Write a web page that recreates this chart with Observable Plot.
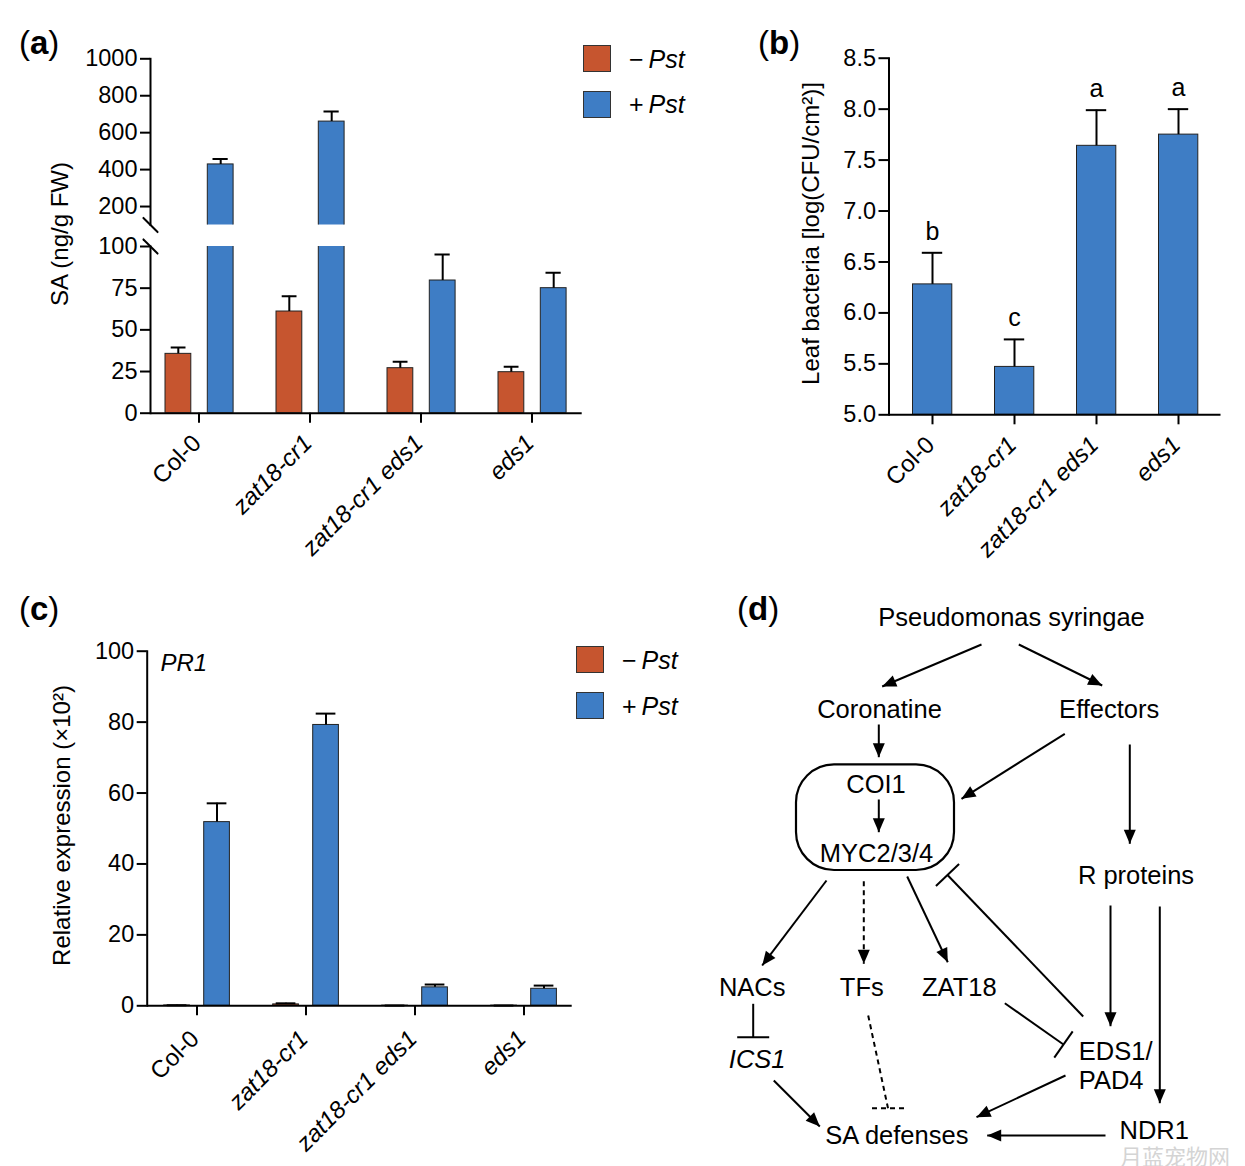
<!DOCTYPE html>
<html><head><meta charset="utf-8">
<script src="https://cdn.jsdelivr.net/npm/d3@7"></script>
<script src="https://cdn.jsdelivr.net/npm/@observablehq/plot@0.6"></script>
<style>
body{margin:0;background:#fff;}
#fig{position:relative;width:1245px;height:1166px;font-family:"Liberation Sans",Arial,Helvetica,sans-serif;color:#000;overflow:hidden;background:#fff;}
.plabel{position:absolute;font-size:33px;line-height:1;white-space:nowrap;}
.plabel b{font-weight:bold;}
.legtxt{position:absolute;font-size:25px;line-height:1;white-space:nowrap;}
.sw{position:absolute;width:28px;height:27px;border:1.2px solid #333;box-sizing:border-box;}
.err{position:absolute;left:10px;color:red;font-size:12px;}
</style></head><body><div id="fig"></div>
<script>
// ---------------- data ----------------
const genotypes = ["Col-0", "zat18-cr1", "zat18-cr1 eds1", "eds1"];
const treatments = ["−Pst", "+Pst"];
// (a) SA content, ng/g FW
const saMock = [35.6, 61.0, 27.0, 24.6];
const saMockErr = [3.8, 9.2, 3.8, 3.2];
const saPst = [428, 660, 79.6, 75.0];
const saPstErr = [30, 55, 15.6, 9.2];
const saTicksUpper = [200, 400, 600, 800, 1000];
const saTicksLower = [0, 25, 50, 75, 100];
// (b) leaf bacteria, log(CFU/cm2)
const bact = [6.28, 5.47, 7.64, 7.75];
const bactErr = [0.31, 0.27, 0.35, 0.25];
const bactLetters = ["b", "c", "a", "a"];
const bactTicks = [5.0, 5.5, 6.0, 6.5, 7.0, 7.5, 8.0, 8.5];
// (c) PR1 relative expression (x10^2)
const pr1Mock = [0.1, 0.4, 0.05, 0.05];
const pr1MockErr = [0.05, 0.3, 0.02, 0.02];
const pr1Pst = [51.8, 79.2, 5.2, 4.8];
const pr1PstErr = [5.3, 3.2, 0.8, 0.9];
const pr1Ticks = [0, 20, 40, 60, 80, 100];
// (d) pathway diagram
const nodes = [
  {label: "Pseudomonas syringae", x: 311, y: 37},
  {label: "Coronatine", x: 179, y: 129},
  {label: "Effectors", x: 408.7, y: 129},
  {label: "COI1", x: 175.5, y: 204},
  {label: "MYC2/3/4", x: 176, y: 273},
  {label: "R proteins", x: 435.5, y: 295.5},
  {label: "NACs", x: 51.7, y: 407},
  {label: "TFs", x: 161.3, y: 407},
  {label: "ZAT18", x: 258.8, y: 407},
  {label: "ICS1", x: 56.7, y: 479, italic: true},
  {label: "EDS1/", x: 378.3, y: 471, align: "start"},
  {label: "PAD4", x: 378.3, y: 500, align: "start"},
  {label: "SA defenses", x: 196.3, y: 555},
  {label: "NDR1", x: 453.7, y: 550.5}
];
const complexBox = [{x1: 96, x2: 254, y1: 184.3, y2: 290}];
const activations = [
  {x1: 281, y1: 64, x2: 181.7, y2: 106},
  {x1: 318.3, y1: 64, x2: 401.7, y2: 105},
  {x1: 178.3, y1: 144, x2: 178.3, y2: 176.7},
  {x1: 364.3, y1: 153.3, x2: 261, y2: 218.3},
  {x1: 429.3, y1: 164, x2: 429.3, y2: 263.3},
  {x1: 178.3, y1: 219, x2: 178.3, y2: 251.7},
  {x1: 126, y1: 300, x2: 61.7, y2: 385},
  {x1: 206.7, y1: 296, x2: 247.3, y2: 381.7},
  {x1: 410, y1: 325, x2: 410, y2: 445.7},
  {x1: 459.3, y1: 326, x2: 459.3, y2: 522.7},
  {x1: 73.3, y1: 500, x2: 119.3, y2: 546},
  {x1: 365, y1: 495, x2: 276, y2: 536.7},
  {x1: 405, y1: 555, x2: 286.7, y2: 555}
];
const dashedActivations = [{x1: 163.3, y1: 300.7, x2: 163.3, y2: 383.3}];
const inhibitions = [
  {x1: 382.7, y1: 436, x2: 247, y2: 294.5},
  {x1: 52.7, y1: 423.3, x2: 52.7, y2: 456.7},
  {x1: 304.3, y1: 422.7, x2: 363, y2: 464}
];
const dashedInhibitions = [{x1: 167.7, y1: 435, x2: 187.5, y2: 527.7}];

// ---------------- style ----------------
const FONT = "'Liberation Sans', Arial, Helvetica, sans-serif";
const RED = "#C6552F", BLUE = "#3E7DC5", EDGE = "#222";
const TICKFONT = 23.5, LABFONT = 24;
const fig = document.getElementById("fig");
function place(el, left, top) {
  el.style.position = "absolute"; el.style.left = left + "px"; el.style.top = top + "px";
  fig.appendChild(el); return el;
}
function html(tag, cls, inner, left, top) {
  const e = document.createElement(tag); e.className = cls; e.innerHTML = inner; return place(e, left, top);
}
function rows(means, errs, trt) {
  return genotypes.map((g, i) => ({genotype: g, treatment: trt, mean: means[i], err: errs[i], top: means[i] + errs[i]}));
}
const italicGenotypes = genotypes.filter(g => g !== "Col-0");
const uprightGenotypes = genotypes.filter(g => g === "Col-0");
const baseStyle = {fontFamily: FONT, fontSize: "23px", overflow: "visible", background: "transparent", color: "black"};
function yAxis(ticks, fmt = d3.format("d")) {
  return Plot.axisY({ticks, tickSize: 10, tickPadding: 3, fontSize: TICKFONT, strokeWidth: 2, label: null, tickFormat: fmt});
}
function xTickLabels(dx, dy) {
  return [
    Plot.text(uprightGenotypes, {x: d => d, frameAnchor: "bottom", rotate: -45, textAnchor: "end", lineAnchor: "middle", dx, dy, fontSize: LABFONT}),
    Plot.text(italicGenotypes, {x: d => d, frameAnchor: "bottom", rotate: -45, textAnchor: "end", lineAnchor: "middle", dx, dy, fontSize: LABFONT, fontStyle: "italic"})
  ];
}
function yTitle(text, frameAnchor, dx, dy) {
  return Plot.text([text], {frameAnchor, rotate: -90, textAnchor: "middle", lineAnchor: "middle", dx, dy, fontSize: 24});
}
function barSet(data, fill, y1, g, clip) {
  return [
    Plot.barY(data, {x: "genotype", y1, y2: "mean", fill, stroke: EDGE, strokeWidth: 1, insetLeft: g.bl, insetRight: g.br, clip}),
    Plot.ruleX(data, {x: "genotype", y1: "mean", y2: "top", dx: g.dx, stroke: "black", strokeWidth: 2, clip}),
    Plot.tickY(data, {x: "genotype", y: "top", insetLeft: g.cl, insetRight: g.cr, stroke: "black", strokeWidth: 2, clip})
  ];
}
const slash = {draw(context, l) { context.moveTo(0, 0); context.lineTo(0, -l); }};
function report(name, e) { html("div", "err", name + ": " + e, 10, 10 + 14 * Math.random() * 10); }

// ---------------- panel (a) ----------------
const mockA = rows(saMock, saMockErr, treatments[0]);
const pstA = rows(saPst, saPstErr, treatments[1]);
const gA = {red: {bl: 22, br: 63.2, dx: -20.7, cl: 27.7, cr: 68.5}, blue: {bl: 64.3, br: 20.9, dx: 21.7, cl: 69.5, cr: 26.3}};
try {
  const upper = Plot.plot({
    width: 600, height: 226, marginLeft: 150, marginRight: 18.3, marginTop: 58.3, marginBottom: 1.5,
    style: baseStyle,
    x: {domain: genotypes, range: [141.4, 588.6], padding: 0, axis: null},
    y: {domain: [100, 1000]},
    marks: [
      ...barSet(mockA, RED, 0, gA.red, true),
      ...barSet(pstA, BLUE, 0, gA.blue, true),
      yAxis(saTicksUpper),
      Plot.frame({anchor: "left", strokeWidth: 2}),
      Plot.vector([0], {frameAnchor: "bottom-left", length: 20, rotate: 135, anchor: "middle", shape: slash, stroke: "black", strokeWidth: 2}),
      yTitle("SA (ng/g FW)", "bottom-left", -90, 9)
    ]
  });
  place(upper, 0, 0);
  const lower = Plot.plot({
    width: 600, height: 340, marginLeft: 150, marginRight: 18.3, marginTop: 16, marginBottom: 157.3,
    style: baseStyle,
    x: {domain: genotypes, range: [141.4, 588.6], padding: 0},
    y: {domain: [0, 100]},
    marks: [
      ...barSet(mockA, RED, 0, gA.red, true),
      ...barSet(pstA, BLUE, 0, gA.blue, true),
      yAxis(saTicksLower),
      Plot.axisX({tickSize: 10, strokeWidth: 2, tickFormat: () => "", label: null}),
      Plot.frame({anchor: "left", strokeWidth: 2}),
      Plot.ruleY([0], {strokeWidth: 2}),
      Plot.vector([0], {frameAnchor: "top-left", length: 20, rotate: 135, anchor: "middle", shape: slash, stroke: "black", strokeWidth: 2}),
      ...xTickLabels(-2, 26)
    ]
  });
  place(lower, 0, 230);
} catch (e) { report("a", e); }

// legend (a)
html("div", "sw", "", 582.7, 45).style.background = RED;
html("div", "sw", "", 582.7, 90.5).style.background = BLUE;
html("div", "legtxt", "−<i style='margin-left:5px'>Pst</i>", 629, 46.5);
html("div", "legtxt", "+<i style='margin-left:5px'>Pst</i>", 629, 92);

// ---------------- panel (b) ----------------
try {
  const dataB = genotypes.map((g, i) => ({genotype: g, mean: bact[i], err: bactErr[i], top: bact[i] + bactErr[i], letter: bactLetters[i]}));
  const gB = {bl: 21.5, br: 21.2, dx: 0, cl: 30.8, cr: 30.8};
  const pb = Plot.plot({
    width: 545, height: 570, marginLeft: 188.5, marginRight: 24.5, marginTop: 57.7, marginBottom: 155.7,
    style: baseStyle,
    x: {domain: genotypes, range: [189.65, 520.4], padding: 0},
    y: {domain: [5, 8.5]},
    marks: [
      ...barSet(dataB, BLUE, 5, gB, false),
      Plot.text(dataB, {x: "genotype", y: "top", text: "letter", lineAnchor: "bottom", dy: -13, fontSize: 25}),
      yAxis(bactTicks, d3.format(".1f")),
      Plot.axisX({tickSize: 10, strokeWidth: 2, tickFormat: () => "", label: null}),
      Plot.frame({anchor: "left", strokeWidth: 2}),
      Plot.ruleY([5], {strokeWidth: 2}),
      yTitle("Leaf bacteria [log(CFU/cm²)]", "left", -78, -3),
      ...xTickLabels(-2, 26)
    ]
  });
  place(pb, 700, 0);
} catch (e) { report("b", e); }

// ---------------- panel (c) ----------------
try {
  const mockC = rows(pr1Mock, pr1MockErr, treatments[0]);
  const pstC = rows(pr1Pst, pr1PstErr, treatments[1]);
  const gC = {red: {bl: 21.7, br: 61.6, dx: -20, cl: 24.7, cr: 64.6}, blue: {bl: 61.7, br: 21.6, dx: 20, cl: 64.7, cr: 24.6}};
  const pc = Plot.plot({
    width: 600, height: 586, marginLeft: 146.7, marginRight: 28.3, marginTop: 70.7, marginBottom: 160.7,
    style: baseStyle,
    x: {domain: genotypes, range: [141.65, 578.85], padding: 0},
    y: {domain: [0, 100]},
    marks: [
      ...barSet(mockC, RED, 0, gC.red, false),
      ...barSet(pstC, BLUE, 0, gC.blue, false),
      yAxis(pr1Ticks),
      Plot.axisX({tickSize: 10, strokeWidth: 2, tickFormat: () => "", label: null}),
      Plot.frame({anchor: "left", strokeWidth: 2}),
      Plot.ruleY([0], {strokeWidth: 2}),
      Plot.text(["PR1"], {frameAnchor: "top-left", dx: 13.3, dy: 3, lineAnchor: "top", textAnchor: "start", fontStyle: "italic", fontSize: 24}),
      yTitle("Relative expression (×10²)", "left", -85, -3),
      ...xTickLabels(-2, 29)
    ]
  });
  place(pc, 0, 580);
} catch (e) { report("c", e); }

// legend (c)
html("div", "sw", "", 576, 645.5).style.background = RED;
html("div", "sw", "", 576, 691.5).style.background = BLUE;
html("div", "legtxt", "−<i style='margin-left:5px'>Pst</i>", 622, 647.5);
html("div", "legtxt", "+<i style='margin-left:5px'>Pst</i>", 622, 694);

// ---------------- panel (d) ----------------
const SVGNS = "http://www.w3.org/2000/svg";
function mk(attrs, pathD, pathAttrs) {
  const m = document.createElementNS(SVGNS, "marker");
  for (const k in attrs) m.setAttribute(k, attrs[k]);
  const p = document.createElementNS(SVGNS, "path");
  p.setAttribute("d", pathD);
  for (const k in pathAttrs) p.setAttribute(k, pathAttrs[k]);
  m.appendChild(p);
  return m;
}
const arrowHead = (color) => mk({markerUnits: "userSpaceOnUse", orient: "auto", viewBox: "-15 -8 16 16", markerWidth: 16, markerHeight: 16, refX: 0, refY: 0},
  "M-14,-6L0,0L-14,6Z", {fill: color, stroke: "none"});
const teeBar = (color) => mk({markerUnits: "userSpaceOnUse", orient: "auto", viewBox: "-2 -18 4 36", markerWidth: 4, markerHeight: 36, refX: 0, refY: 0},
  "M0,-16V16", {fill: "none", stroke: color, "stroke-width": 2});
const teeBarFlat = (color) => mk({markerUnits: "userSpaceOnUse", orient: "0", viewBox: "-18 -2 36 4", markerWidth: 36, markerHeight: 4, refX: 0, refY: 0},
  "M-16,0H16", {fill: "none", stroke: color, "stroke-width": 2, "stroke-dasharray": "5,4"});
const DFONT = 25.5;
try {
  const pd = Plot.plot({
    width: 545, height: 586, margin: 0,
    style: {...baseStyle, fontSize: "25px"},
    x: {domain: [0, 545], range: [0, 545], axis: null},
    y: {domain: [0, 586], range: [0, 586], axis: null},
    marks: [
      Plot.rect(complexBox, {x1: "x1", x2: "x2", y1: "y1", y2: "y2", rx: 38, fill: "none", stroke: "black", strokeWidth: 2.2}),
      Plot.link(activations, {x1: "x1", y1: "y1", x2: "x2", y2: "y2", stroke: "black", strokeWidth: 2, markerEnd: arrowHead}),
      Plot.link(dashedActivations, {x1: "x1", y1: "y1", x2: "x2", y2: "y2", stroke: "black", strokeWidth: 2, strokeDasharray: "5,4", markerEnd: arrowHead}),
      Plot.link(inhibitions, {x1: "x1", y1: "y1", x2: "x2", y2: "y2", stroke: "black", strokeWidth: 2, markerEnd: teeBar}),
      Plot.link(dashedInhibitions, {x1: "x1", y1: "y1", x2: "x2", y2: "y2", stroke: "black", strokeWidth: 2, strokeDasharray: "5,4", markerEnd: teeBarFlat}),
      Plot.text(nodes, {filter: d => !d.align && !d.italic, x: "x", y: "y", text: "label", fontSize: DFONT}),
      Plot.text(nodes, {filter: d => d.italic, x: "x", y: "y", text: "label", fontSize: DFONT, fontStyle: "italic"}),
      Plot.text(nodes, {filter: d => d.align === "start", x: "x", y: "y", text: "label", fontSize: DFONT, textAnchor: "start"})
    ]
  });
  place(pd, 700, 580);
} catch (e) { report("d", e); }

// panel letters
html("div", "plabel", "(<b>a</b>)", 19, 26);
html("div", "plabel", "(<b>b</b>)", 758, 26);
html("div", "plabel", "(<b>c</b>)", 19, 592);
html("div", "plabel", "(<b>d</b>)", 737, 592);
// watermark of the source image
const wm = html("div", "plabel", "月蓝宠物网", 1120, 1144);
wm.style.fontFamily = "'Noto Sans CJK SC', sans-serif"; wm.style.fontSize = "22px"; wm.style.color = "#d4d4d4";
</script></body></html>
